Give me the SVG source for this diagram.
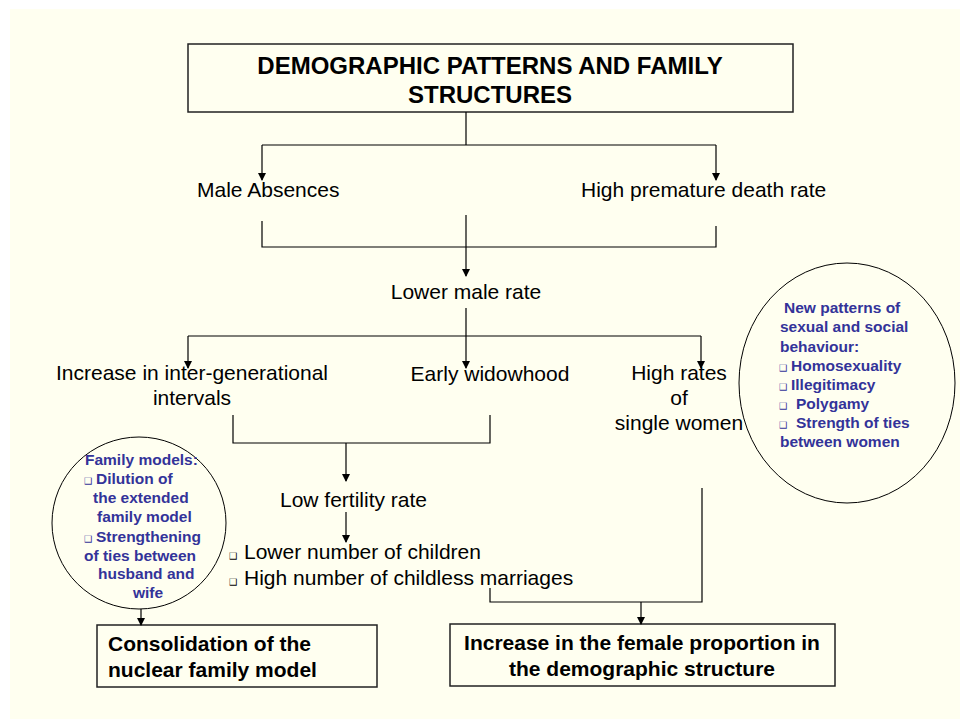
<svg xmlns="http://www.w3.org/2000/svg" width="960" height="719" viewBox="0 0 960 719">
<defs>
<marker id="ah" markerWidth="8" markerHeight="9" refX="7" refY="4" orient="auto" markerUnits="userSpaceOnUse">
<path d="M0,0 L8,4 L0,8 Z" fill="#000"/>
</marker>
<style>
.t{font-family:"Liberation Sans",Arial,sans-serif;font-size:21px;fill:#000}
.b{font-family:"Liberation Sans",Arial,sans-serif;font-size:21px;font-weight:bold;fill:#000}
.h{font-family:"Liberation Sans",Arial,sans-serif;font-size:24px;font-weight:bold;fill:#000}
.bl{font-family:"Liberation Sans",Arial,sans-serif;font-size:15.5px;font-weight:bold;fill:#333399}
.sq{font-family:"DejaVu Sans",sans-serif;font-size:9px;font-weight:normal}
.box{fill:none;stroke:#222;stroke-width:1.5}
.ell{fill:none;stroke:#000;stroke-width:1}
.c{fill:none;stroke:#000;stroke-width:1.2}
.a{fill:none;stroke:#000;stroke-width:1.2;marker-end:url(#ah)}
</style>
</defs>
<rect x="10" y="9" width="950" height="710" fill="#FFFFF0"/>

<g id="title">
<rect class="box" x="188" y="44" width="605" height="68"/>
<text class="h" x="490" y="74" text-anchor="middle">DEMOGRAPHIC PATTERNS AND FAMILY</text>
<text class="h" x="490" y="103" text-anchor="middle">STRUCTURES</text>
</g>

<g id="male-absences"><text class="t" x="197" y="197">Male Absences</text></g>
<g id="premature-death"><text class="t" x="581" y="197">High premature death rate</text></g>
<g id="lower-male-rate"><text class="t" x="466" y="299" text-anchor="middle">Lower male rate</text></g>
<g id="intergenerational">
<text class="t" x="192" y="380" text-anchor="middle">Increase in inter-generational</text>
<text class="t" x="192" y="405" text-anchor="middle">intervals</text>
</g>
<g id="early-widowhood"><text class="t" x="490" y="381" text-anchor="middle">Early widowhood</text></g>
<g id="single-women">
<text class="t" x="679" y="380" text-anchor="middle">High rates</text>
<text class="t" x="679" y="405" text-anchor="middle">of</text>
<text class="t" x="679" y="430" text-anchor="middle">single women</text>
</g>
<g id="low-fertility">
<text class="t" x="280" y="507">Low fertility rate</text>
</g>
<g id="fertility-effects">
<text class="t" x="229" y="559"><tspan class="sq">❑</tspan><tspan x="244">Lower number of children</tspan></text>
<text class="t" x="229" y="585"><tspan class="sq">❑</tspan><tspan x="244">High number of childless marriages</tspan></text>
</g>

<g id="new-patterns">
<ellipse class="ell" cx="847" cy="383" rx="108" ry="120"/>
<text class="bl" x="784" y="313">New patterns of</text>
<text class="bl" x="780" y="332">sexual and social</text>
<text class="bl" x="780" y="352">behaviour:</text>
<text class="bl" x="779" y="371"><tspan class="sq" fill="#333399">❑</tspan><tspan x="791">Homosexuality</tspan></text>
<text class="bl" x="779" y="390"><tspan class="sq" fill="#333399">❑</tspan><tspan x="791">Illegitimacy</tspan></text>
<text class="bl" x="779" y="409"><tspan class="sq" fill="#333399">❑</tspan><tspan x="796">Polygamy</tspan></text>
<text class="bl" x="779" y="428"><tspan class="sq" fill="#333399">❑</tspan><tspan x="796">Strength of ties</tspan></text>
<text class="bl" x="780" y="447">between women</text>
</g>

<g id="family-models">
<ellipse class="ell" cx="139" cy="523" rx="87" ry="86"/>
<text class="bl" x="85" y="465">Family models:</text>
<text class="bl" x="84" y="484"><tspan class="sq" fill="#333399">❑</tspan><tspan x="96">Dilution of</tspan></text>
<text class="bl" x="93" y="503">the extended</text>
<text class="bl" x="97" y="522">family model</text>
<text class="bl" x="84" y="542"><tspan class="sq" fill="#333399">❑</tspan><tspan x="96">Strengthening</tspan></text>
<text class="bl" x="84" y="561">of ties between</text>
<text class="bl" x="98" y="579">husband and</text>
<text class="bl" x="133" y="598">wife</text>
</g>

<g id="nuclear-family">
<rect class="box" x="97" y="625" width="280" height="62"/>
<text class="b" x="108" y="651">Consolidation of the</text>
<text class="b" x="108" y="677">nuclear family model</text>
</g>

<g id="female-proportion">
<rect class="box" x="450" y="624" width="385" height="62"/>
<text class="b" x="642" y="650" text-anchor="middle">Increase in the female proportion in</text>
<text class="b" x="642" y="676" text-anchor="middle">the demographic structure</text>
</g>

<g id="connectors">
<path class="c" d="M466,112 V145 M262,145 H716"/>
<path class="a" d="M262,145 V180"/>
<path class="a" d="M716,145 V180"/>
<path class="c" d="M262,221 V247 H716 V226"/>
<path class="a" d="M466,215 V276"/>
<path class="c" d="M466,308 V336 M188,336 H701"/>
<path class="a" d="M188,336 V368"/>
<path class="a" d="M466,336 V368"/>
<path class="a" d="M701,336 V368"/>
<path class="c" d="M233,415 V443 H490 V415"/>
<path class="a" d="M346,443 V481"/>
<path class="a" d="M346,512 V542"/>
<path class="c" d="M490,588 V602 H702 V488"/>
<path class="a" d="M641,602 V624"/>
<path class="a" d="M141,609 V625"/>
</g>
</svg>
